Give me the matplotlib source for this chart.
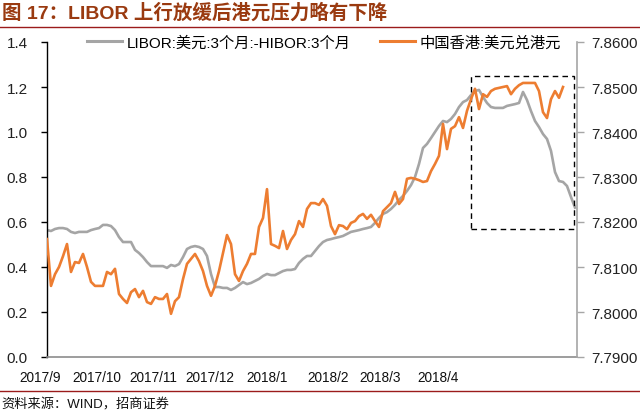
import numpy as np
import matplotlib
matplotlib.use("Agg")
import matplotlib.pyplot as plt
from matplotlib.lines import Line2D
from matplotlib.patches import Rectangle
import matplotlib.transforms as mtransforms

plt.rcParams['font.family'] = ['Liberation Sans', 'Noto Sans CJK SC', 'DejaVu Sans']

# ---------------- data ----------------
title = "图 17：LIBOR 上行放缓后港元压力略有下降"
source = "资料来源：WIND，招商证券"
label_spread = "LIBOR:美元:3个月:-HIBOR:3个月"
label_fx = "中国香港:美元兑港元"

month_labels = ["2017/9", "2017/10", "2017/11", "2017/12",
                "2018/1", "2018/2", "2018/3", "2018/4"]
# label anchor positions on the trading-day index axis
month_pos = [-1.75, 12.5, 26.5, 40.75, 55.0, 70.25, 83.25, 97.75]

libor_hibor = [
    0.564, 0.560, 0.569, 0.573, 0.573, 0.569, 0.556, 0.551, 0.556, 0.556,
    0.556, 0.564, 0.569, 0.573, 0.587, 0.587, 0.582, 0.564, 0.533, 0.511,
    0.511, 0.511, 0.476, 0.462, 0.444, 0.422, 0.404, 0.404, 0.404, 0.404,
    0.396, 0.409, 0.404, 0.413, 0.444, 0.480, 0.489, 0.493, 0.489, 0.480,
    0.449, 0.369, 0.311, 0.311, 0.307, 0.307, 0.298, 0.307, 0.320, 0.333,
    0.324, 0.329, 0.338, 0.347, 0.360, 0.369, 0.364, 0.364, 0.373, 0.382,
    0.387, 0.387, 0.391, 0.418, 0.436, 0.449, 0.449, 0.471, 0.493, 0.511,
    0.520, 0.524, 0.529, 0.533, 0.538, 0.547, 0.556, 0.560, 0.564, 0.569,
    0.573, 0.578, 0.596, 0.618, 0.636, 0.644, 0.658, 0.676, 0.698, 0.716,
    0.738, 0.764, 0.800, 0.858, 0.929, 0.947, 0.973, 1.000, 1.027, 1.049,
    1.044, 1.058, 1.080, 1.111, 1.133, 1.142, 1.164, 1.182, 1.187, 1.156,
    1.129, 1.111, 1.107, 1.107, 1.107, 1.116, 1.120, 1.124, 1.129, 1.178,
    1.142, 1.093, 1.049, 1.022, 0.991, 0.969, 0.916, 0.822, 0.782, 0.778,
    0.760, 0.711, 0.664,
]

usd_hkd = [
    7.8162, 7.8058, 7.8084, 7.8100, 7.8124, 7.8151, 7.8089, 7.8111, 7.8109, 7.8129,
    7.8100, 7.8067, 7.8058, 7.8058, 7.8058, 7.8089, 7.8084, 7.8096, 7.8040, 7.8029,
    7.8020, 7.8044, 7.8051, 7.8033, 7.8047, 7.8022, 7.8018, 7.8033, 7.8029, 7.8029,
    7.8040, 7.7996, 7.8024, 7.8033, 7.8073, 7.8107, 7.8118, 7.8129, 7.8113, 7.8091,
    7.8058, 7.8036, 7.8058, 7.8091, 7.8131, 7.8171, 7.8151, 7.8084, 7.8069, 7.8091,
    7.8107, 7.8129, 7.8129, 7.8189, 7.8209, 7.8273, 7.8151, 7.8147, 7.8142, 7.8180,
    7.8140, 7.8160, 7.8173, 7.8202, 7.8189, 7.8229, 7.8242, 7.8242, 7.8238, 7.8251,
    7.8236, 7.8191, 7.8173, 7.8193, 7.8191, 7.8184, 7.8198, 7.8202, 7.8213, 7.8218,
    7.8207, 7.8216, 7.8202, 7.8189, 7.8224, 7.8233, 7.8242, 7.8267, 7.8240, 7.8251,
    7.8296, 7.8298, 7.8296, 7.8293, 7.8289, 7.8291, 7.8313, 7.8329, 7.8347, 7.8418,
    7.8362, 7.8407, 7.8413, 7.8433, 7.8409, 7.8447, 7.8473, 7.8496, 7.8451, 7.8484,
    7.8478, 7.8491, 7.8496, 7.8498, 7.8500, 7.8502, 7.8484, 7.8496, 7.8504, 7.8509,
    7.8509, 7.8509, 7.8509, 7.8491, 7.8444, 7.8431, 7.8473, 7.8491, 7.8476, 7.8500,
]

left_ticks = [0.0, 0.2, 0.4, 0.6, 0.8, 1.0, 1.2, 1.4]
right_ticks = [7.79, 7.80, 7.81, 7.82, 7.83, 7.84, 7.85, 7.86]

# ---------------- styling ----------------
GRAY = '#A5A5A5'
ORANGE = '#ED7D31'
RED = '#9B1B1B'
TITLE_C = '#9A3A10'
W, H = 640, 414

fig = plt.figure(figsize=(W / 100, H / 100), dpi=100)
ax = fig.add_axes([47 / W, (H - 358) / H, (577 - 47) / W, (358 - 43) / H])
ax2 = ax.twinx()

x_l = np.arange(len(libor_hibor))
x_f = np.arange(len(usd_hkd))
ax.plot(x_l, libor_hibor, color=GRAY, lw=1.9, solid_joinstyle='round')
ax2.plot(x_f, usd_hkd, color=ORANGE, lw=1.9, solid_joinstyle='round')

ax.set_xlim(0, 132.5)
ax.set_ylim(0, 1.4)
ax2.set_ylim(7.79, 7.86)
ax.set_yticks(left_ticks)
ax.set_yticklabels([f"{v:.1f}" for v in left_ticks], fontsize=11)
ax2.set_yticks(right_ticks)
ax2.set_yticklabels([f"{v:.4f}" for v in right_ticks], fontsize=11)
ax.set_xticks([])

for a in (ax, ax2):
    a.spines['top'].set_visible(False)
ax.spines['right'].set_visible(False)
ax2.spines['left'].set_visible(False)
ax2.spines['bottom'].set_visible(False)
ax.spines['left'].set_color('black')
ax.spines['left'].set_linewidth(1.0)
ax.spines['bottom'].set_color('#8C8C8C')
ax.spines['bottom'].set_linewidth(1.2)
ax2.spines['right'].set_color('#A6A6A6')
ax2.spines['right'].set_linewidth(1.2)
ax.tick_params(axis='y', direction='out', length=4, width=1, color='black',
               pad=10, labelcolor='#222222')
ax2.tick_params(axis='y', direction='out', length=5, width=1, color='#A6A6A6',
                pad=5, labelcolor='#222222')

# month labels
trans = mtransforms.blended_transform_factory(ax.transData, ax.transAxes)
for p, lab in zip(month_pos, month_labels):
    ax.text(p, -20 / 315, lab, transform=trans, ha='center', va='center',
            fontsize=9.8, color='#111111', clip_on=False)

# dashed highlight box
rect = Rectangle((106, 0.569), 131.75 - 106, 1.249 - 0.569, fill=False,
                 ls=(0, (4, 3)), lw=1.0, ec='black', clip_on=False, zorder=5)
ax.add_patch(rect)

# legend
handles = [Line2D([], [], color=GRAY, lw=2.2), Line2D([], [], color=ORANGE, lw=2.2)]
leg = fig.legend(handles, [label_spread, label_fx], loc='upper left',
                 bbox_to_anchor=(87 / W, (H - 36) / H), ncol=2, frameon=False,
                 fontsize=11, handlelength=2.3, handletextpad=0.3,
                 columnspacing=1.9, borderpad=0, borderaxespad=0)

# title, rules, source
fig.text(2 / W, (H - 13) / H, title, fontsize=14, fontweight='bold',
         color=TITLE_C, ha='left', va='center')
fig.add_artist(Line2D([0, 1], [(H - 27.5) / H] * 2, color=RED, lw=1.0))
fig.add_artist(Line2D([0, 1], [(H - 392) / H] * 2, color=RED, lw=1.0))
fig.text(1 / W, (H - 405) / H, source, fontsize=9.5, color='#111111',
         ha='left', va='center')

fig.savefig("out.png", dpi=100)
